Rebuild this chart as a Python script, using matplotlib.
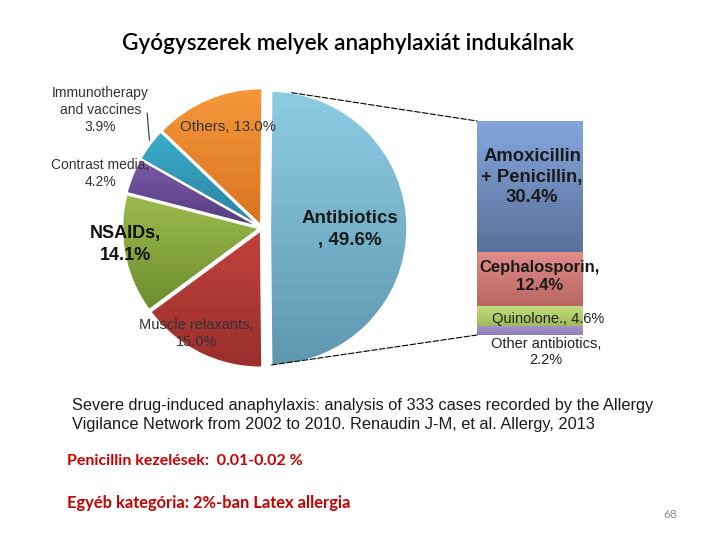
import numpy as np
import matplotlib
matplotlib.use('Agg')
import matplotlib.pyplot as plt
from matplotlib.patches import ConnectionPatch
from matplotlib.colors import to_rgb

# data
pie_labels = ['Antibiotics\n, 49.6%', 'Muscle relaxants,\n15.0%', 'NSAIDs,\n14.1%',
              'Contrast media,\n4.2%', 'Immunotherapy\nand vaccines\n3.9%', 'Others, 13.0%']
pie_values = [49.6, 15.0, 14.1, 4.2, 3.9, 13.0]
bar_labels = ['Other antibiotics,\n2.2%', 'Quinolone., 4.6%', 'Cephalosporin,\n12.4%',
              'Amoxicillin\n+ Penicillin,\n30.4%']
bar_values = [2.2, 4.6, 12.4, 30.4]

title = 'Gyógyszerek melyek anaphylaxiát indukálnak'
caption = ('Severe drug-induced anaphylaxis: analysis of 333 cases recorded by the Allergy\n'
           'Vigilance Network from 2002 to 2010. Renaudin J-M, et al. Allergy, 2013')
note1 = 'Penicillin kezelések:  0.01-0.02 %'
note2 = 'Egyéb kategória: 2%-ban Latex allergia'
page = '68'

# (top colour, bottom colour) for the gradients
pie_colors = [('#8ccde4', '#5f98b0'), ('#c2423d', '#9a2f2c'), ('#9dbb4e', '#6f8c2f'),
              ('#7a5aa8', '#563d80'), ('#3aaccb', '#2a84a0'), ('#f6983a', '#d9741f')]
bar_colors = [('#a796cc', '#8f7db8'), ('#c4dc80', '#9dbb55'), ('#e08c88', '#b86662'),
              ('#85a6dc', '#5a7199')]

ARIAL = 'Liberation Sans'
CALIBRI = 'Lato'


def shade(ax, patch, c_top, c_bot):
    # vertical gradient clipped to the patch
    bb = patch.get_path().get_extents(patch.get_patch_transform())
    t = np.linspace(0, 1, 256)[:, None]
    top, bot = np.array(to_rgb(c_top)), np.array(to_rgb(c_bot))
    img = (bot + (top - bot) * t)[:, None, :]
    im = ax.imshow(img, extent=[bb.x0, bb.x1, bb.y0, bb.y1], origin='lower',
                   aspect='auto', zorder=patch.get_zorder(), interpolation='bilinear')
    im.set_clip_path(patch)
    patch.set_facecolor('none')
    patch.set_zorder(patch.get_zorder() + 1)


fig = plt.figure(figsize=(7.2, 5.4), dpi=100)

# pie: centre (262, 228) px, radius 137 px
r_px = 137
side = 2.2 * r_px
ax_pie = fig.add_axes([(262 - side / 2) / 720, (540 - 228 - side / 2) / 540, side / 720, side / 540])
ang = pie_values[0] / sum(pie_values) * 360
start = 90 - (180 - ang) / 2
wedges, _ = ax_pie.pie(pie_values, startangle=start, counterclock=False,
                       explode=[0.06, 0.02, 0.02, 0.02, 0.02, 0.02],
                       colors=[c[0] for c in pie_colors],
                       wedgeprops=dict(edgecolor='white', linewidth=1.3))
for w, c in zip(wedges, pie_colors):
    shade(ax_pie, w, c[0], c[1])
ax_pie.set_xlim(-1.1, 1.1)
ax_pie.set_ylim(-1.1, 1.1)
ax_pie.set_aspect('equal')
ax_pie.axis('off')

pie_pos = [(0.64, -0.01), (-0.48, -0.77), (-1.0, -0.12), (-1.18, 0.40), (-1.18, 0.86), (-0.25, 0.74)]
pie_style = [dict(fontsize=13.5, fontweight='bold', color='#1a1a1a', linespacing=1.42),
             dict(fontsize=10.5, color='#333333', linespacing=1.25),
             dict(fontsize=13, fontweight='bold', color='#111111', linespacing=1.42),
             dict(fontsize=10, color='#333333', linespacing=1.25),
             dict(fontsize=10, color='#333333', linespacing=1.25),
             dict(fontsize=10.8, color='#333333', linespacing=1.2)]
for lab, pos, st in zip(pie_labels, pie_pos, pie_style):
    ax_pie.text(pos[0], pos[1], lab, ha='center', va='center', family=ARIAL,
                zorder=10, **st)
ax_pie.annotate('', xy=(-0.82, 0.62), xytext=(-0.84, 0.86),
                arrowprops=dict(arrowstyle='-', color='#333333', lw=0.8), zorder=10)

# bar of the antibiotics slice
ax_bar = fig.add_axes([477 / 720, (540 - 335) / 540, 106 / 720, 214 / 540])
bottom = 0
bars = []
for v, c in zip(bar_values, bar_colors):
    b = ax_bar.bar(0.5, v, width=1, bottom=bottom, color=c[0], linewidth=0)[0]
    shade(ax_bar, b, c[0], c[1])
    bars.append(b)
    bottom += v
ax_bar.set_xlim(0, 1)
ax_bar.set_ylim(0, sum(bar_values))
ax_bar.axis('off')

bar_pos = [(0.65, -4.0), (0.67, 3.8), (0.59, 13.6), (0.52, 36.6)]
bar_style = [dict(fontsize=10.5, color='#222222', linespacing=1.2),
             dict(fontsize=10.5, color='#222222', linespacing=1.1),
             dict(fontsize=12, fontweight='bold', color='#1a1a1a', linespacing=1.2),
             dict(fontsize=13.3, fontweight='bold', color='#1a1a1a', linespacing=1.28)]
for lab, pos, st in zip(bar_labels, bar_pos, bar_style):
    ax_bar.text(pos[0], pos[1], lab, ha='center', va='center', family=ARIAL,
                zorder=10, **st)

# connector lines from the slice to the bar
w = wedges[0]
cx, cy = w.center
for a, yb in [(81, sum(bar_values)), (w.theta1, 0)]:
    xa = cx + w.r * np.cos(np.radians(a))
    ya = cy + w.r * np.sin(np.radians(a))
    con = ConnectionPatch(xyA=(xa, ya), coordsA=ax_pie.transData,
                          xyB=(0, yb), coordsB=ax_bar.transData,
                          color='black', lw=0.8, linestyle=(0, (5, 2)))
    fig.add_artist(con)

fig.text(348 / 720, 1 - 43 / 540, title, ha='center', va='center', fontsize=16.2,
         family=CALIBRI, fontweight='semibold', color='black')
fig.text(72 / 720, 1 - 415 / 540, caption, ha='left', va='center', fontsize=11.8,
         family=ARIAL, color='#1a1a1a', linespacing=1.32)
fig.text(67 / 720, 1 - 461 / 540, note1, ha='left', va='center', fontsize=11.5,
         family=CALIBRI, fontweight='bold', color='#c80000')
fig.text(67 / 720, 1 - 503 / 540, note2, ha='left', va='center', fontsize=11.9,
         family=CALIBRI, fontweight='bold', color='#c80000')
fig.text(670 / 720, 1 - 514 / 540, page, ha='center', va='center', fontsize=8.5,
         family=CALIBRI, color='#8c8c8c')

fig.savefig('out.png', dpi=100)
